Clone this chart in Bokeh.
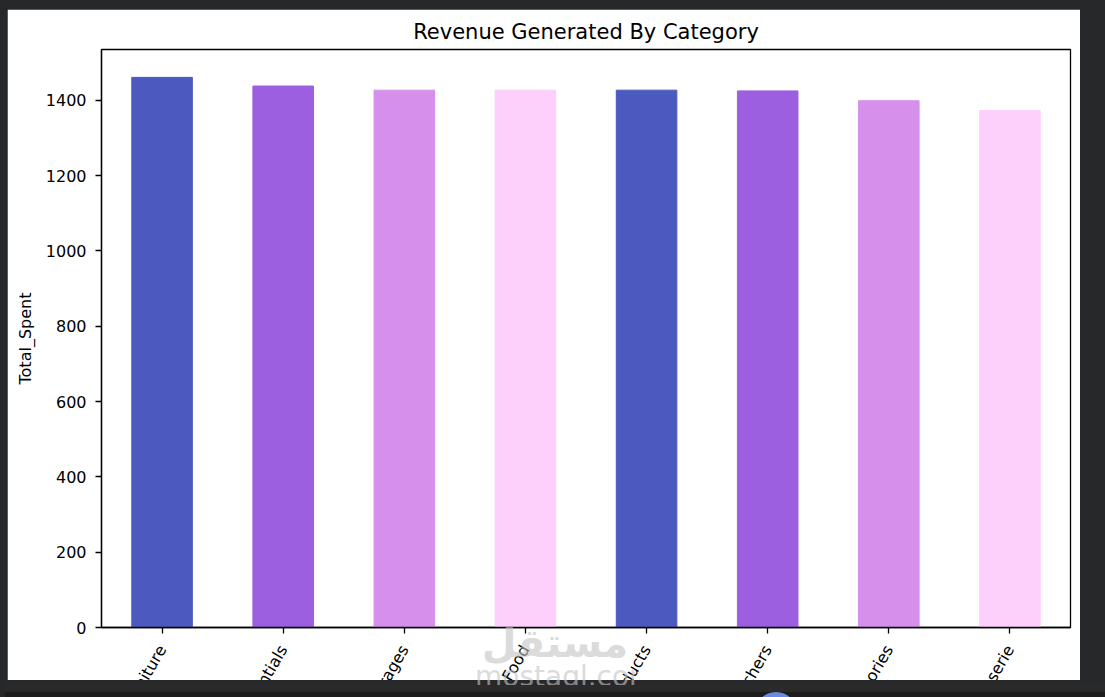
import math
from bokeh.plotting import figure
from bokeh.models import (FactorRange, Range1d, FixedTicker, Spacer, Div,
                          Column, Row, ColumnDataSource)
from bokeh.embed import file_html
from bokeh.resources import INLINE

# ---- data ----
categories = ["Furniture", "Electric household essentials", "Beverages", "Food",
              "Milk Products", "Butchers", "Computers and electric accessories",
              "Patisserie"]
total_spent = [1461, 1438, 1427, 1427, 1427, 1425, 1399, 1373]
bar_colors = ["#4c5abf", "#9b5fdf", "#d690ec", "#fdcffb",
              "#4c5abf", "#9b5fdf", "#d690ec", "#fdcffb"]
y_ticks = [0, 200, 400, 600, 800, 1000, 1200, 1400]

FONT = "DejaVu Sans"

src = ColumnDataSource(dict(cat=categories, val=total_spent, col=bar_colors))

p = figure(x_range=FactorRange(factors=categories, range_padding=0),
           y_range=Range1d(0, 1535),
           width=1073, height=896, sizing_mode="fixed",
           min_border_left=94, min_border_right=10, min_border_top=40,
           output_backend="svg", toolbar_location=None,
           title="Revenue Generated By Category",
           styles={"clip-path": "inset(0px 0px calc(100% - 671px) 0px)"})

p.vbar(x="cat", top="val", width=0.5, color="col", source=src)

p.background_fill_color = "white"
p.border_fill_color = "white"
p.outline_line_color = "black"
p.outline_line_width = 1.3
p.xgrid.grid_line_color = None
p.ygrid.grid_line_color = None

p.title.text_font = FONT
p.title.text_font_size = "21px"
p.title.text_font_style = "normal"
p.title.text_color = "black"
p.title.align = "center"
p.title.standoff = 12

for ax in (p.xaxis[0], p.yaxis[0]):
    ax.axis_line_color = "black"
    ax.axis_line_width = 1.3
    ax.major_tick_line_color = "black"
    ax.major_tick_line_width = 1.3
    ax.major_tick_out = 6
    ax.major_tick_in = 0
    ax.minor_tick_line_color = None
    ax.major_label_text_font = FONT
    ax.major_label_text_font_size = "16px"
    ax.major_label_text_color = "black"

# rotated category labels hanging below the ticks
p.xaxis.major_label_orientation = math.pi / 3
p.xaxis.major_label_standoff = 13

p.yaxis.ticker = FixedTicker(ticks=y_ticks)
p.yaxis.major_label_standoff = 9
p.yaxis.axis_label = "Total_Spent"
p.yaxis.axis_label_text_font = FONT
p.yaxis.axis_label_text_font_size = "16px"
p.yaxis.axis_label_text_font_style = "normal"
p.yaxis.axis_label_text_color = "black"
p.yaxis.axis_label_standoff = 8

# faint site watermark (HTML overlay, clipped at the bottom of the white area)
wm_html = (
    '<div style="position:relative;width:160px;height:62px;overflow:hidden;'
    'font-family:\'DejaVu Sans\';color:#c4c4c4;opacity:0.6;text-align:center;line-height:1">'
    '<div style="font-size:40px;font-weight:bold">مستقل</div>'
    '<div style="font-size:28px">mostaql.com</div></div>'
)
wm = Div(text=wm_html, width=160, height=62,
         styles={"position": "absolute", "left": "470px", "top": "618px",
                 "z-index": "5", "pointer-events": "none"})

band_html = (
    '<div style="position:relative;width:1105px;height:17px;background:#1d1d1e;overflow:hidden">'
    '<div style="position:absolute;left:0;top:0;width:1105px;height:7px;background:#2a2a2b"></div>'
    '<div style="position:absolute;left:750px;top:7px;width:42px;height:42px;'
    'border-radius:50%;background:#6a8ae0"></div></div>'
)
band = Div(text=band_html, width=1105, height=17,
           styles={"position": "absolute", "left": "0px", "top": "680px",
                   "z-index": "6"})

outer = Column(children=[Spacer(width=1105, height=9),
                         Row(children=[Spacer(width=7, height=671), p]),
                         wm, band],
               styles={"background-color": "#27282a", "position": "relative",
                       "width": "1105px", "height": "697px", "overflow": "hidden"})

open("out.html", "w").write(file_html(outer, INLINE))
